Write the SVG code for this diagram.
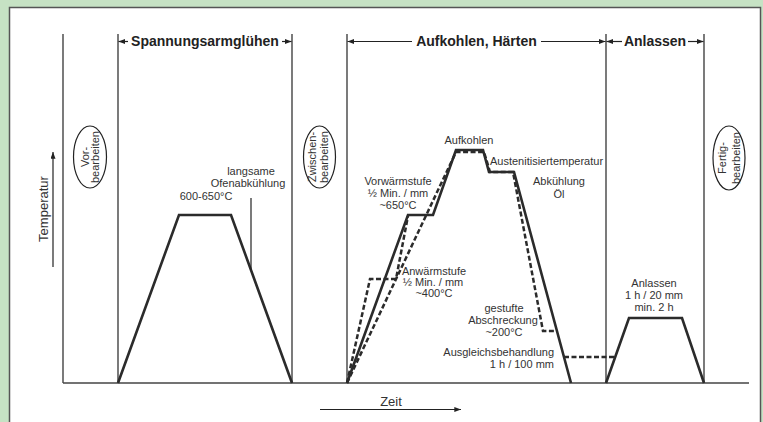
<svg xmlns="http://www.w3.org/2000/svg" width="763" height="422" viewBox="0 0 763 422">
<style>
text{font-family:"Liberation Sans",Arial,sans-serif;fill:#333}
.lbl{font-size:11px;text-anchor:middle}
.hdr{font-size:14px;font-weight:bold;text-anchor:middle;fill:#222}
.ax{font-size:13px;text-anchor:middle}
.thin{stroke:#222;stroke-width:1.2;fill:none}
.curve{stroke:#2b2b2b;stroke-width:2.6;fill:none;stroke-linejoin:miter}
.dash{stroke:#2b2b2b;stroke-width:2.5;fill:none;stroke-dasharray:5 2.5}
.ell{fill:#fff;stroke:#222;stroke-width:1.2}
</style>
<defs>
<marker id="ah" viewBox="0 0 8 6" markerWidth="7" markerHeight="5" refX="8" refY="3" orient="auto-start-reverse" markerUnits="userSpaceOnUse">
<path d="M0,0 L8,3 L0,6 z" fill="#222"/>
</marker>
</defs>
<rect x="0" y="0" width="763" height="422" fill="#c6e2c4"/>
<rect x="9.5" y="7.5" width="751" height="420" fill="#fff" stroke="#555" stroke-width="1.5"/>

<g id="grid">
<line class="thin" x1="63" y1="34" x2="63" y2="383"/>
<line class="thin" x1="118" y1="34" x2="118" y2="383"/>
<line class="thin" x1="292" y1="34" x2="292" y2="383"/>
<line class="thin" x1="347" y1="34" x2="347" y2="383"/>
<line class="thin" x1="606" y1="34" x2="606" y2="383"/>
<line class="thin" x1="704" y1="34" x2="704" y2="383"/>
<line x1="63" y1="383" x2="749" y2="383" stroke="#444" stroke-width="1.3"/>
</g>

<g id="axes">
<line class="thin" x1="53" y1="267" x2="53" y2="152" marker-end="url(#ah)"/>
<text class="ax" transform="translate(48,209) rotate(-90)">Temperatur</text>
<line class="thin" x1="320" y1="409.5" x2="461" y2="409.5" marker-end="url(#ah)"/>
<text class="ax" x="391" y="406">Zeit</text>
</g>

<g id="header-spannungsarmgluehen">
<line class="thin" x1="128" y1="41.5" x2="118.5" y2="41.5" marker-end="url(#ah)"/>
<line class="thin" x1="282" y1="41.5" x2="291.5" y2="41.5" marker-end="url(#ah)"/>
<text class="hdr" x="205" y="46">Spannungsarmglühen</text>
</g>
<g id="header-aufkohlen-haerten">
<line class="thin" x1="412" y1="41.5" x2="347.5" y2="41.5" marker-end="url(#ah)"/>
<line class="thin" x1="541" y1="41.5" x2="605.5" y2="41.5" marker-end="url(#ah)"/>
<text class="hdr" x="476.5" y="46">Aufkohlen, Härten</text>
</g>
<g id="header-anlassen">
<line class="thin" x1="622" y1="41.5" x2="606.5" y2="41.5" marker-end="url(#ah)"/>
<line class="thin" x1="688" y1="41.5" x2="703.5" y2="41.5" marker-end="url(#ah)"/>
<text class="hdr" x="655" y="46">Anlassen</text>
</g>

<g id="vorbearbeiten">
<ellipse class="ell" cx="90" cy="157" rx="16.5" ry="31"/>
<text class="lbl" transform="translate(88.5,157) rotate(-90)">Vor-</text>
<text class="lbl" transform="translate(99,157) rotate(-90)">bearbeiten</text>
</g>
<g id="zwischenbearbeiten">
<ellipse class="ell" cx="319.5" cy="157" rx="16" ry="31"/>
<text class="lbl" transform="translate(316,157) rotate(-90)">Zwischen-</text>
<text class="lbl" transform="translate(327.5,157) rotate(-90)">bearbeiten</text>
</g>
<g id="fertigbearbeiten">
<ellipse class="ell" cx="729" cy="158" rx="16" ry="32"/>
<text class="lbl" transform="translate(726,158) rotate(-90)">Fertig-</text>
<text class="lbl" transform="translate(739.5,158) rotate(-90)">bearbeiten</text>
</g>

<g id="connectors">
<path class="curve" d="M118,383 L179,215 L231,215 L292,383"/>
<line class="thin" x1="251" y1="198" x2="251" y2="270"/>
<path class="dash" d="M347,383 L370,279 L396,279 L408,216"/>
<path class="dash" d="M347,383 L456,152 L484,152 L490,172 L513,172 L543,331 L557,331"/>
<path class="dash" d="M564,357 L615,357"/>
<path class="curve" d="M347,383 L408,215 L433,215 L456,150 L483,150 L489,172 L514,172 L571,383"/>
<path class="curve" d="M606,383 L629,318 L682,318 L704,383"/>
</g>

<g id="labels">
<text class="lbl" x="251" y="175">langsame</text>
<text class="lbl" x="248" y="187">Ofenabkühlung</text>
<text class="lbl" x="206" y="200">600-650°C</text>
<text class="lbl" x="398" y="185">Vorwärmstufe</text>
<text class="lbl" x="398" y="197">½ Min. / mm</text>
<text class="lbl" x="398" y="209">~650°C</text>
<text class="lbl" x="469" y="144">Aufkohlen</text>
<text class="lbl" x="546.5" y="165">Austenitisiertemperatur</text>
<text class="lbl" x="559" y="185">Abkühlung</text>
<text class="lbl" x="559" y="198">Öl</text>
<text class="lbl" x="434" y="275">Anwärmstufe</text>
<text class="lbl" x="433" y="286">½ Min. / mm</text>
<text class="lbl" x="434" y="297">~400°C</text>
<text class="lbl" x="504" y="312">gestufte</text>
<text class="lbl" x="503" y="324">Abschreckung</text>
<text class="lbl" x="504" y="336">~200°C</text>
<text class="lbl" x="554" y="356" style="text-anchor:end">Ausgleichsbehandlung</text>
<text class="lbl" x="554" y="368" style="text-anchor:end">1 h / 100 mm</text>
<text class="lbl" x="654" y="287">Anlassen</text>
<text class="lbl" x="654" y="299">1 h / 20 mm</text>
<text class="lbl" x="654" y="311">min. 2 h</text>
</g>
</svg>
